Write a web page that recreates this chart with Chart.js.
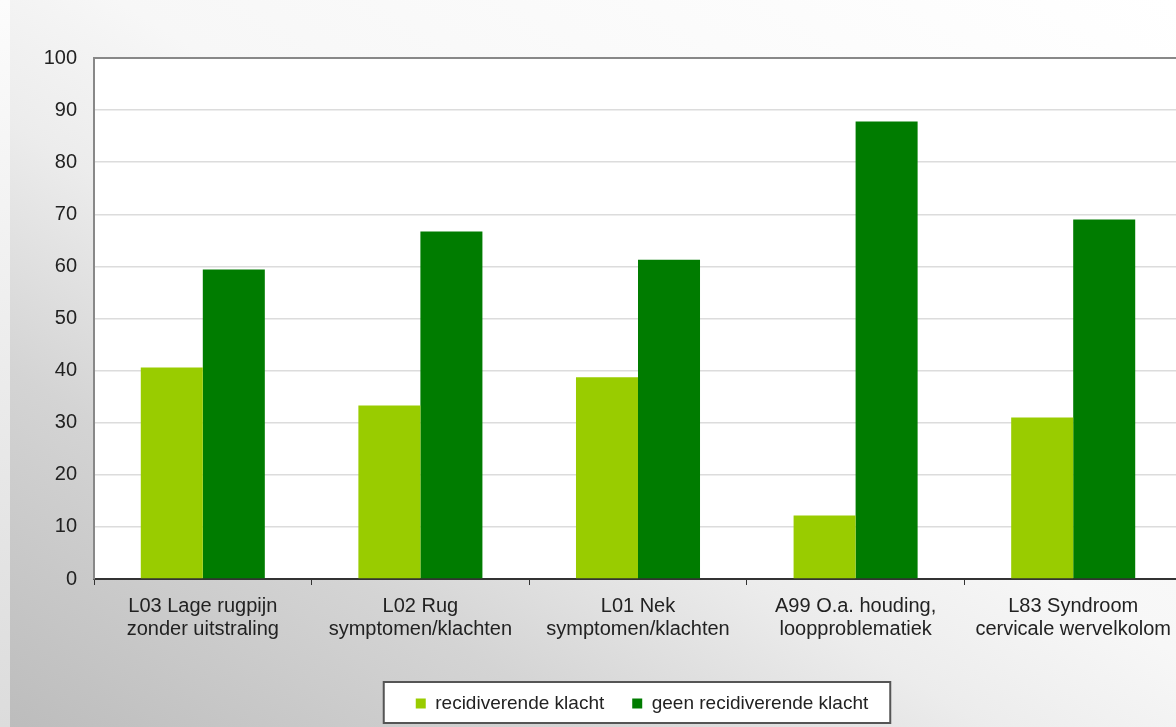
<!DOCTYPE html>
<html>
<head>
<meta charset="utf-8">
<script src="https://cdn.jsdelivr.net/npm/chart.js@4"></script>
<style>
  html, body { margin: 0; padding: 0; overflow: hidden; background: #fff; }
  .wrap {
    position: relative;
    width: 1176px;
    height: 727px;
    overflow: hidden;
    background: linear-gradient(to top right, #bcbcbc 0%, #d4d4d4 25%, #ececec 42%, #f7f7f7 55%, #ffffff 100%);
  }
  .wrap::before {
    content: '';
    position: absolute; left: 0; top: 0; bottom: 0; width: 10px;
    background: linear-gradient(180deg, #fcfcfc, #dcdcdc);
  }
  .chart-box { position: absolute; left: 0; top: 0; width: 1210px; height: 727px; }
</style>
</head>
<body>
<div class="wrap">
  <div class="chart-box"><canvas id="chart" width="1210" height="727"></canvas></div>
</div>
<script>
const categories = [
  ['L03 Lage rugpijn', 'zonder uitstraling'],
  ['L02 Rug', 'symptomen/klachten'],
  ['L01 Nek', 'symptomen/klachten'],
  ['A99 O.a. houding,', 'loopproblematiek'],
  ['L83 Syndroom', 'cervicale wervelkolom']
];
const recidiverend = [40.6, 33.3, 38.7, 12.2, 31.0];
const geenRecidiverend = [59.4, 66.7, 61.3, 87.8, 69.0];
const yTicks = [0, 10, 20, 30, 40, 50, 60, 70, 80, 90, 100];

const fontFamily = '"Liberation Sans", Arial, sans-serif';

// rectangle around the legend items
function legendFrame(chart) {
  const boxes = chart.legend.legendHitBoxes;
  if (!boxes || !boxes.length) return null;
  const first = boxes[0];
  const last = boxes[boxes.length - 1];
  const left = first.left - 32;
  const right = last.left + last.width + 22;
  return { x: left, y: first.top - 12, w: right - left, h: first.height + 22 };
}

const chartDecor = {
  id: 'chartDecor',
  afterLayout(chart) {
    // legend sits a bit right of the centre
    chart.legend.left += 46;
    chart.legend.right += 46;
  },
  beforeDraw(chart) {
    const { ctx, chartArea } = chart;
    ctx.save();
    ctx.fillStyle = '#ffffff';
    ctx.fillRect(chartArea.left, chartArea.top, chartArea.right - chartArea.left, chartArea.bottom - chartArea.top);
    const f = legendFrame(chart);
    if (f) ctx.fillRect(f.x, f.y, f.w, f.h);
    ctx.restore();
  },
  afterDraw(chart) {
    const f = legendFrame(chart);
    if (!f) return;
    const ctx = chart.ctx;
    ctx.save();
    ctx.strokeStyle = '#555';
    ctx.lineWidth = 2;
    ctx.strokeRect(f.x, f.y, f.w, f.h);
    ctx.restore();
  }
};

new Chart(document.getElementById('chart'), {
  type: 'bar',
  data: {
    labels: categories,
    datasets: [{
      label: 'recidiverende klacht',
      data: recidiverend,
      backgroundColor: '#99cc00',
      barPercentage: 1,
      categoryPercentage: 0.57
    }, {
      label: 'geen recidiverende klacht',
      data: geenRecidiverend,
      backgroundColor: '#007c00',
      barPercentage: 1,
      categoryPercentage: 0.57
    }]
  },
  options: {
    responsive: false,
    animation: false,
    devicePixelRatio: 1,
    layout: { padding: { left: 10, right: 28, top: 58, bottom: 4 } },
    plugins: {
      tooltip: { enabled: false },
      legend: {
        position: 'bottom',
        labels: {
          boxWidth: 10,
          boxHeight: 10,
          padding: 28,
          color: '#222',
          font: { family: fontFamily, size: 19 }
        }
      }
    },
    scales: {
      x: {
        afterFit(scale) { scale.height += 15; },
        border: { color: '#333', width: 2 },
        grid: {
          offset: true,
          drawOnChartArea: false,
          drawTicks: true,
          tickLength: 6,
          color: '#333'
        },
        ticks: {
          color: '#222',
          padding: 10,
          maxRotation: 0,
          font: { family: fontFamily, size: 20, lineHeight: 1.15 }
        }
      },
      y: {
        min: 0,
        max: 100,
        afterFit(scale) { scale.width = 84; },
        afterBuildTicks(scale) { scale.ticks = yTicks.map(v => ({ value: v })); },
        border: { color: '#888', width: 2 },
        grid: {
          drawTicks: false,
          tickLength: 0,
          lineWidth: ctx => ctx.tick && ctx.tick.value === 100 ? 2 : 1.5,
          color: ctx => ctx.tick && ctx.tick.value === 100 ? '#888' : '#dcdcdc'
        },
        ticks: {
          color: '#222',
          padding: 17,
          font: { family: fontFamily, size: 20 }
        }
      }
    }
  },
  plugins: [chartDecor]
});
</script>
</body>
</html>
